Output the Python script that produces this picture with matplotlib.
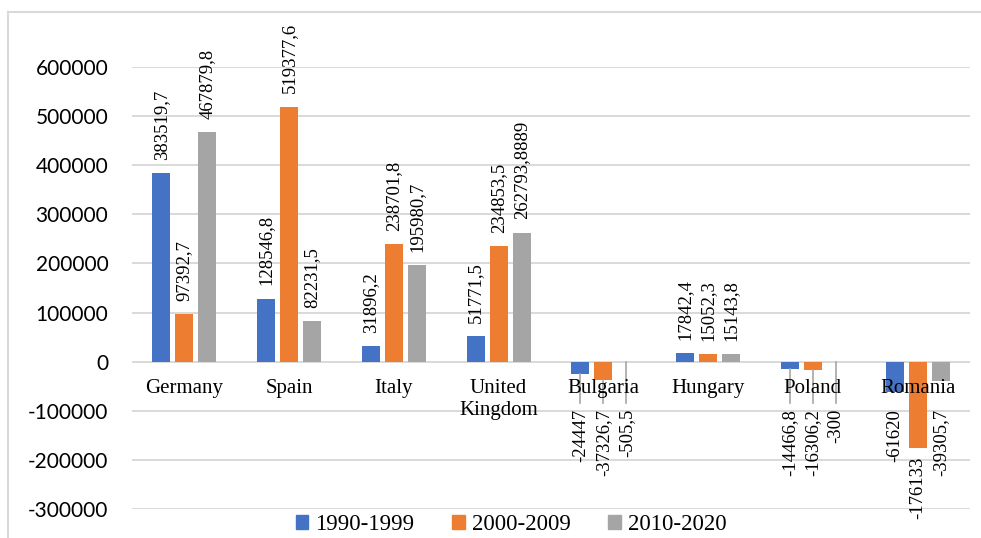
import matplotlib.pyplot as plt
import numpy as np
from matplotlib.lines import Line2D
from matplotlib.patches import Patch

countries = ['Germany', 'Spain', 'Italy', 'United\nKingdom', 'Bulgaria', 'Hungary', 'Poland', 'Romania']
series_names = ['1990-1999', '2000-2009', '2010-2020']
v_1990 = [383519.7, 128546.8, 31896.2, 51771.5, -24447, 17842.4, -14466.8, -61620]
v_2000 = [97392.7, 519377.6, 238701.8, 234853.5, -37326.7, 15052.3, -16306.2, -176133]
v_2010 = [467879.8, 82231.5, 195980.7, 262793.8889, -505.5, 15143.8, -300, -39305.7]
yticks = [-300000, -200000, -100000, 0, 100000, 200000, 300000, 400000, 500000, 600000]

colors = ['#4472C4', '#ED7D31', '#A5A5A5']
serif = 'Liberation Serif'

def fmt(v):
    return str(v).replace('.', ',')

fig = plt.figure(figsize=(9.81, 5.38), dpi=100)
ax = fig.add_axes([132/981, 1-509/538, 838/981, 442/538])

x = np.arange(len(countries))
step = 0.22
width = 0.172
for k, vals in enumerate([v_1990, v_2000, v_2010]):
    xs = x + (k-1)*step
    ax.bar(xs, vals, width, color=colors[k], zorder=2)
    for xi, v in zip(xs, vals):
        if v >= 0:
            ax.annotate(fmt(v), (xi, v), xytext=(0, 9.5), textcoords='offset points',
                        rotation=90, ha='center', va='bottom', fontsize=13.5,
                        family=serif, zorder=4)
        else:
            top = min(v - 18000, -96000)
            ax.annotate(fmt(v), (xi, top), rotation=90, ha='center', va='top',
                        fontsize=13.5, family=serif, zorder=4)
            # leader lines for labels dragged away from small bars
            if v > -38000:
                ax.plot([xi, xi], [v, top + 12000], color='#a6a6a6', lw=1.2, zorder=3)

# category labels sit just under the zero line
for xi, name in zip(x, countries):
    ax.annotate(name, (xi, 0), xytext=(0, -12.5), textcoords='offset points',
                ha='center', va='top', fontsize=15, family=serif,
                linespacing=1.2, zorder=5)

ax.set_xlim(-0.5, len(countries)-0.5)
ax.set_ylim(-300000, 600000)
ax.set_yticks(yticks)
ax.set_yticklabels([str(t) for t in yticks], family='Lato', fontsize=15)
ax.set_xticks([])
ax.tick_params(axis='y', length=0, pad=17)
ax.grid(axis='y', color='#d9d9d9', lw=1.4, zorder=0)
for s in ax.spines.values():
    s.set_visible(False)

handles = [Patch(color=c) for c in colors]
fig.legend(handles, series_names, loc='center', bbox_to_anchor=(511/981, 1-525/538),
           ncol=3, frameon=False, prop={'family': serif, 'size': 16.5},
           handlelength=0.55, handleheight=0.55, handletextpad=0.3,
           columnspacing=1.65, borderpad=0)

# chart border
fig.add_artist(Line2D([8/981, 1], [1-12/538, 1-12/538], transform=fig.transFigure,
                      color='#d9d9d9', lw=1.5))
fig.add_artist(Line2D([8/981, 8/981], [0, 1-12/538], transform=fig.transFigure,
                      color='#d9d9d9', lw=1.5))

fig.savefig('out.png', dpi=100)
